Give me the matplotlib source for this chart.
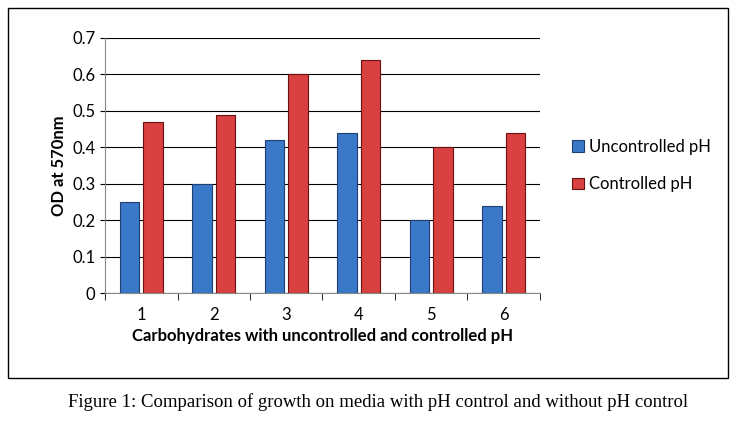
import matplotlib.pyplot as plt
from matplotlib.patches import Rectangle
import numpy

plt.rcParams['font.family'] = ['Lato', 'DejaVu Sans']

categories = ['1', '2', '3', '4', '5', '6']
uncontrolled = [0.25, 0.30, 0.42, 0.44, 0.20, 0.24]
controlled = [0.47, 0.49, 0.60, 0.64, 0.40, 0.44]

fig = plt.figure(figsize=(7.42, 4.38), dpi=100)
fig.patches.append(Rectangle((8/742, 1-378/438), 720/742, 370/438, transform=fig.transFigure,
                             fill=False, edgecolor='black', linewidth=1))
ax = fig.add_axes([105/742, 1-293/438, 435/742, 255/438])

x = numpy.arange(len(categories))
w = 0.27
ax.bar(x - 0.16, uncontrolled, w, color='#3a78c8', edgecolor='#1f3f70', linewidth=0.8, label='Uncontrolled pH')
ax.bar(x + 0.16, controlled, w, color='#d94040', edgecolor='#6b1010', linewidth=0.8, label='Controlled pH')

ax.set_xlim(-0.5, 5.5)
ax.set_ylim(0, 0.7)
ax.set_yticks(numpy.arange(0, 0.71, 0.1))
ax.set_yticklabels(['0', '0.1', '0.2', '0.3', '0.4', '0.5', '0.6', '0.7'])
ax.set_xticks(x)
ax.set_xticklabels(categories)
ax.set_xticks(numpy.arange(-0.5, 5.6, 1), minor=True)
ax.tick_params(axis='x', which='major', length=0, labelsize=12, pad=10)
ax.tick_params(axis='x', which='minor', length=5)
ax.tick_params(axis='y', labelsize=12)
ax.yaxis.grid(True, color='black', linewidth=0.8)
ax.set_axisbelow(True)
for s in ['top', 'right']:
    ax.spines[s].set_visible(False)
ax.spines['left'].set_color('#888888')
ax.spines['bottom'].set_color('#888888')
ax.set_ylabel('OD at 570nm', fontsize=12, fontweight='bold')
ax.set_xlabel('Carbohydrates with uncontrolled and controlled pH', fontsize=12, fontweight='bold')
ax.legend(loc='center left', bbox_to_anchor=(1.04, 0.5), frameon=False, fontsize=12,
          handlelength=0.7, handleheight=0.7, labelspacing=1.3, handletextpad=0.3)

fig.text(378/742, 1-402/438, 'Figure 1: Comparison of growth on media with pH control and without pH control',
         ha='center', va='center', fontsize=13.5, family='Liberation Serif')

plt.savefig('out.png', dpi=100)
